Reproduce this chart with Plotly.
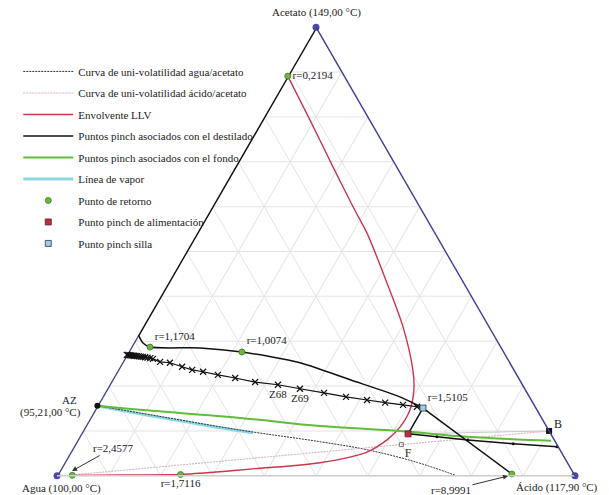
import plotly.graph_objects as go

FONT = "Liberation Serif"
BLUE = "#3e3e94"
RED = "#c8374a"
GREEN = "#62bb3a"
CYAN = "#8ad8e2"

# Envolvente LLV: fracciones molares de acetato y de ácido
llv_acetato = [0.891, 0.793, 0.688, 0.592, 0.541, 0.430, 0.332, 0.236, 0.192, 0.147,
               0.109, 0.080, 0.053, 0.029, 0.022, 0.016, 0.009, 0.003, 0.002, 0.001]
llv_acido = [0.000, 0.092, 0.189, 0.279, 0.328, 0.422, 0.502, 0.569, 0.593, 0.608,
             0.608, 0.597, 0.572, 0.493, 0.439, 0.375, 0.310, 0.237, 0.130, 0.029]

# Puntos pinch asociados con el destilado
dest_borde_acetato = [1.000, 0.891, 0.314]
dest_borde_acido = [0.000, 0.000, 0.000]
dest_acetato = [0.314, 0.296, 0.287, 0.285, 0.276, 0.252, 0.214, 0.176, 0.158, 0.151]
dest_acido = [0.000, 0.018, 0.036, 0.134, 0.219, 0.343, 0.459, 0.574, 0.616, 0.631]
dest_tramo_acetato = [0.151, 0.004]
dest_tramo_acido = [0.631, 0.876]
silla_alim_acetato = [0.151, 0.0935]
silla_alim_acido = [0.631, 0.631]
alim_borde_acetato = [0.0935, 0.087, 0.080, 0.0713, 0.0646]
alim_borde_acido = [0.631, 0.690, 0.753, 0.845, 0.933]

# Puntos pinch asociados con el fondo
fondo_acetato = [0.156, 0.147, 0.129, 0.111, 0.100, 0.087, 0.078]
fondo_acido = [0.000, 0.087, 0.289, 0.452, 0.612, 0.748, 0.915]

# Curva de uni-volatilidad agua/acetato
uv_aa_acetato = [0.156, 0.140, 0.102, 0.076, 0.058, 0.030, 0.000]
uv_aa_acido = [0.000, 0.090, 0.302, 0.470, 0.570, 0.680, 0.772]

# Línea de vapor
vapor_acetato = [0.156, 0.138, 0.122, 0.107, 0.096]
vapor_acido = [0.000, 0.091, 0.180, 0.262, 0.330]

# Curva de uni-volatilidad ácido/acetato (pasa por F hasta B)
uv_ac_acetato = [0.002, 0.0696, 0.100]
uv_ac_acido = [0.029, 0.630, 0.900]
alim_b_acetato = [0.0935, 0.100]
alim_b_acido = [0.631, 0.900]

# Perfil de composición de la columna (etapas)
perfil_acetato = [0.2695, 0.2692, 0.2688, 0.2684, 0.2680, 0.2676, 0.2672, 0.2668, 0.2662,
                  0.2656, 0.2650, 0.2642, 0.2634, 0.2622, 0.2606, 0.254, 0.252, 0.243,
                  0.236, 0.232, 0.225, 0.218, 0.209, 0.203, 0.194, 0.185, 0.176, 0.169,
                  0.163, 0.158, 0.154, 0.151]
perfil_acido = [0.000, 0.003, 0.006, 0.009, 0.012, 0.015, 0.018, 0.021, 0.025,
                0.029, 0.033, 0.038, 0.043, 0.049, 0.055, 0.072, 0.092, 0.120,
                0.143, 0.166, 0.198, 0.235, 0.278, 0.325, 0.372, 0.423, 0.470, 0.514,
                0.552, 0.589, 0.618, 0.631]
perfil_etiquetas = {23: "Z68", 24: "Z69"}

# Puntos de retorno
ret_acetato = [0.891, 0.287, 0.276, 0.003, 0.001, 0.004]
ret_acido = [0.000, 0.036, 0.219, 0.237, 0.029, 0.876]
ret_texto = ["r=0,2194", "r=1,1704", "r=1,0074", "r=1,7116", "", ""]
ret_pos = ["middle right", "top right", "top right", "bottom center", "top center", "top center"]

# Punto pinch de alimentación, punto silla y alimentación F
alim_acetato, alim_acido = [0.0935], [0.631]
silla_acetato, silla_acido = [0.151], [0.631]
f_acetato, f_acido = [0.0696], [0.630]

# Azeótropo y fondo B
az_acetato, az_acido = [0.156], [0.000]
b_acetato, b_acido = [0.100], [0.900]

# Componentes puros y tramo inferior del lado agua-acetato
vert_acetato = [1.0, 0.0, 0.0]
vert_acido = [0.0, 0.0, 1.0]
lado_acetato = [0.0, 0.314]
lado_acido = [0.0, 0.0]


def agua(acet, acid):
    return [max(0.0, round(1.0 - x - y, 4)) for x, y in zip(acet, acid)]


def tern(acet, acid, **kw):
    kw.setdefault("cliponaxis", False)
    return go.Scatterternary(a=acet, b=agua(acet, acid), c=acid, **kw)


fig = go.Figure()

# Lado izquierdo: las líneas se recortan al triángulo, así que se dibujan más gruesas
fig.add_trace(tern(lado_acetato, lado_acido, mode="lines", showlegend=False,
                   line=dict(color=BLUE, width=2.6), hoverinfo="skip"))
fig.add_trace(tern(dest_borde_acetato, dest_borde_acido, mode="lines", showlegend=False,
                   line=dict(color="#111111", width=2.8), hoverinfo="skip"))
fig.add_trace(tern(vapor_acetato, vapor_acido, mode="lines", name="Línea de vapor",
                   line=dict(color=CYAN, width=3, shape="spline"), legendrank=6,
                   legendgroup="g6"))
fig.add_trace(tern(uv_aa_acetato, uv_aa_acido, mode="lines",
                   name="Curva de uni-volatilidad agua/acetato",
                   line=dict(color="#333333", width=1, dash="2px,1px", shape="spline"),
                   legendrank=1, legendgroup="g1"))
fig.add_trace(tern(uv_ac_acetato, uv_ac_acido, mode="lines",
                   name="Curva de uni-volatilidad ácido/acetato",
                   line=dict(color="#d3b3bc", width=1.1, dash="2px,1px"), legendrank=2,
                   legendgroup="g2"))
fig.add_trace(tern(alim_b_acetato, alim_b_acido, mode="lines", showlegend=False,
                   line=dict(color="#c8c8c8", width=1)))
fig.add_trace(tern(llv_acetato, llv_acido, mode="lines", name="Envolvente LLV",
                   line=dict(color=RED, width=1.4, shape="spline", smoothing=0.8), legendrank=3,
                   legendgroup="g3"))
fig.add_trace(tern(fondo_acetato, fondo_acido, mode="lines",
                   name="Puntos pinch asociados con el fondo",
                   line=dict(color=GREEN, width=2, shape="spline"), legendrank=5,
                   legendgroup="g5"))
fig.add_trace(tern(dest_acetato, dest_acido, mode="lines",
                   name="Puntos pinch asociados con el destilado",
                   line=dict(color="#111111", width=1.5, shape="spline", smoothing=0.7),
                   legendrank=4, legendgroup="g4"))
fig.add_trace(tern(dest_tramo_acetato, dest_tramo_acido, mode="lines", showlegend=False,
                   line=dict(color="#111111", width=1.5)))
fig.add_trace(tern(silla_alim_acetato, silla_alim_acido, mode="lines", showlegend=False,
                   line=dict(color="#111111", width=1.5)))
fig.add_trace(tern(alim_borde_acetato, alim_borde_acido, mode="lines+markers", showlegend=False,
                   line=dict(color="#111111", width=1.5),
                   marker=dict(color="#111111", size=3)))

perfil_texto = [perfil_etiquetas.get(i, "") for i in range(len(perfil_acetato))]
fig.add_trace(tern(perfil_acetato, perfil_acido, mode="lines+markers+text", showlegend=False,
                   text=perfil_texto, textposition="bottom center",
                   textfont=dict(family=FONT, size=11, color="#222"),
                   line=dict(color="#111111", width=1.2),
                   marker=dict(symbol="x-thin", size=6, line=dict(color="#111111", width=1.2))))

fig.add_trace(tern(f_acetato, f_acido, mode="markers+text", showlegend=False,
                   text=["F"], textposition="bottom right",
                   textfont=dict(family=FONT, size=12, color="#333"),
                   marker=dict(symbol="square-open", size=4, color="#777")))
fig.add_trace(tern(az_acetato, az_acido, mode="markers", showlegend=False,
                   marker=dict(symbol="circle", size=6, color="#111")))
fig.add_trace(tern(b_acetato, b_acido, mode="markers", showlegend=False,
                   marker=dict(symbol="square", size=6, color="#111")))
fig.add_trace(tern(vert_acetato, vert_acido, mode="markers", showlegend=False,
                   marker=dict(symbol="circle", size=7, color="#4a4aa6")))

fig.add_trace(tern(ret_acetato, ret_acido, mode="markers+text", name="Punto de retorno",
                   text=ret_texto, textposition=ret_pos,
                   textfont=dict(family=FONT, size=11, color="#222"),
                   marker=dict(symbol="circle", size=6, color="#6cb545",
                               line=dict(color="#3d7a25", width=0.8)),
                   legendrank=7, legendgroup="g7"))
fig.add_trace(tern(alim_acetato, alim_acido, mode="markers", name="Punto pinch de alimentación",
                   marker=dict(symbol="square", size=6, color="#b8303f",
                               line=dict(color="#6a1a22", width=0.8)), legendrank=8,
                   legendgroup="g8"))
fig.add_trace(tern(silla_acetato, silla_acido, mode="markers+text", name="Punto pinch silla",
                   text=["r=1,5105"], textposition="top right",
                   textfont=dict(family=FONT, size=11, color="#222"),
                   marker=dict(symbol="square", size=6, color="#9fcfdc",
                               line=dict(color="#335", width=0.8)), legendrank=9,
                   legendgroup="g9"))

axis_common = dict(showticklabels=False, ticks="", showgrid=True, gridcolor="#e4e4e4",
                   gridwidth=1, tick0=0, dtick=0.1, title=dict(text=""), linewidth=1.4, min=0)


def label(text, px, py, **kw):
    base = dict(text=text, x=px / 609, y=1 - py / 495, xref="paper", yref="paper",
                xanchor="center", yanchor="middle", showarrow=False)
    base.update(kw)
    return base


fig.update_layout(
    width=609, height=495,
    margin=dict(l=0, r=0, t=0, b=0),
    paper_bgcolor="white",
    font=dict(family=FONT, size=11, color="#222"),
    ternary=dict(
        domain=dict(x=[57 / 609, 575 / 609], y=[1 - 480 / 495, 1 - 23 / 495]),
        bgcolor="white",
        aaxis=dict(axis_common, showline=False),
        baxis=dict(axis_common, linecolor="#cccccc"),
        caxis=dict(axis_common, linecolor=BLUE),
    ),
    legend=dict(x=0.030, y=0.885, xanchor="left", yanchor="top", bgcolor="rgba(0,0,0,0)",
                font=dict(family=FONT, size=11, color="#222"), itemwidth=50,
                tracegroupgap=2.5, traceorder="grouped"),
    annotations=[
        label("Acetato (149,00 °C)", 316, 13),
        label("Agua (100,00 °C)", 61, 488),
        label("Ácido (117,90 °C)", 557, 487),
        label("AZ", 69, 400),
        label("(95,21,00 °C)", 50, 412),
        label("B", 558, 424, font=dict(size=12)),
        label("r=2,4577", 72, 471, showarrow=True, arrowhead=2, arrowsize=1, arrowwidth=1,
              arrowcolor="#333", ax=41, ay=-23),
        label("r=8,9991", 508, 476, showarrow=True, arrowhead=2, arrowsize=1, arrowwidth=1,
              arrowcolor="#333", ax=-57, ay=14),
    ],
)

fig.write_html("out.html")
